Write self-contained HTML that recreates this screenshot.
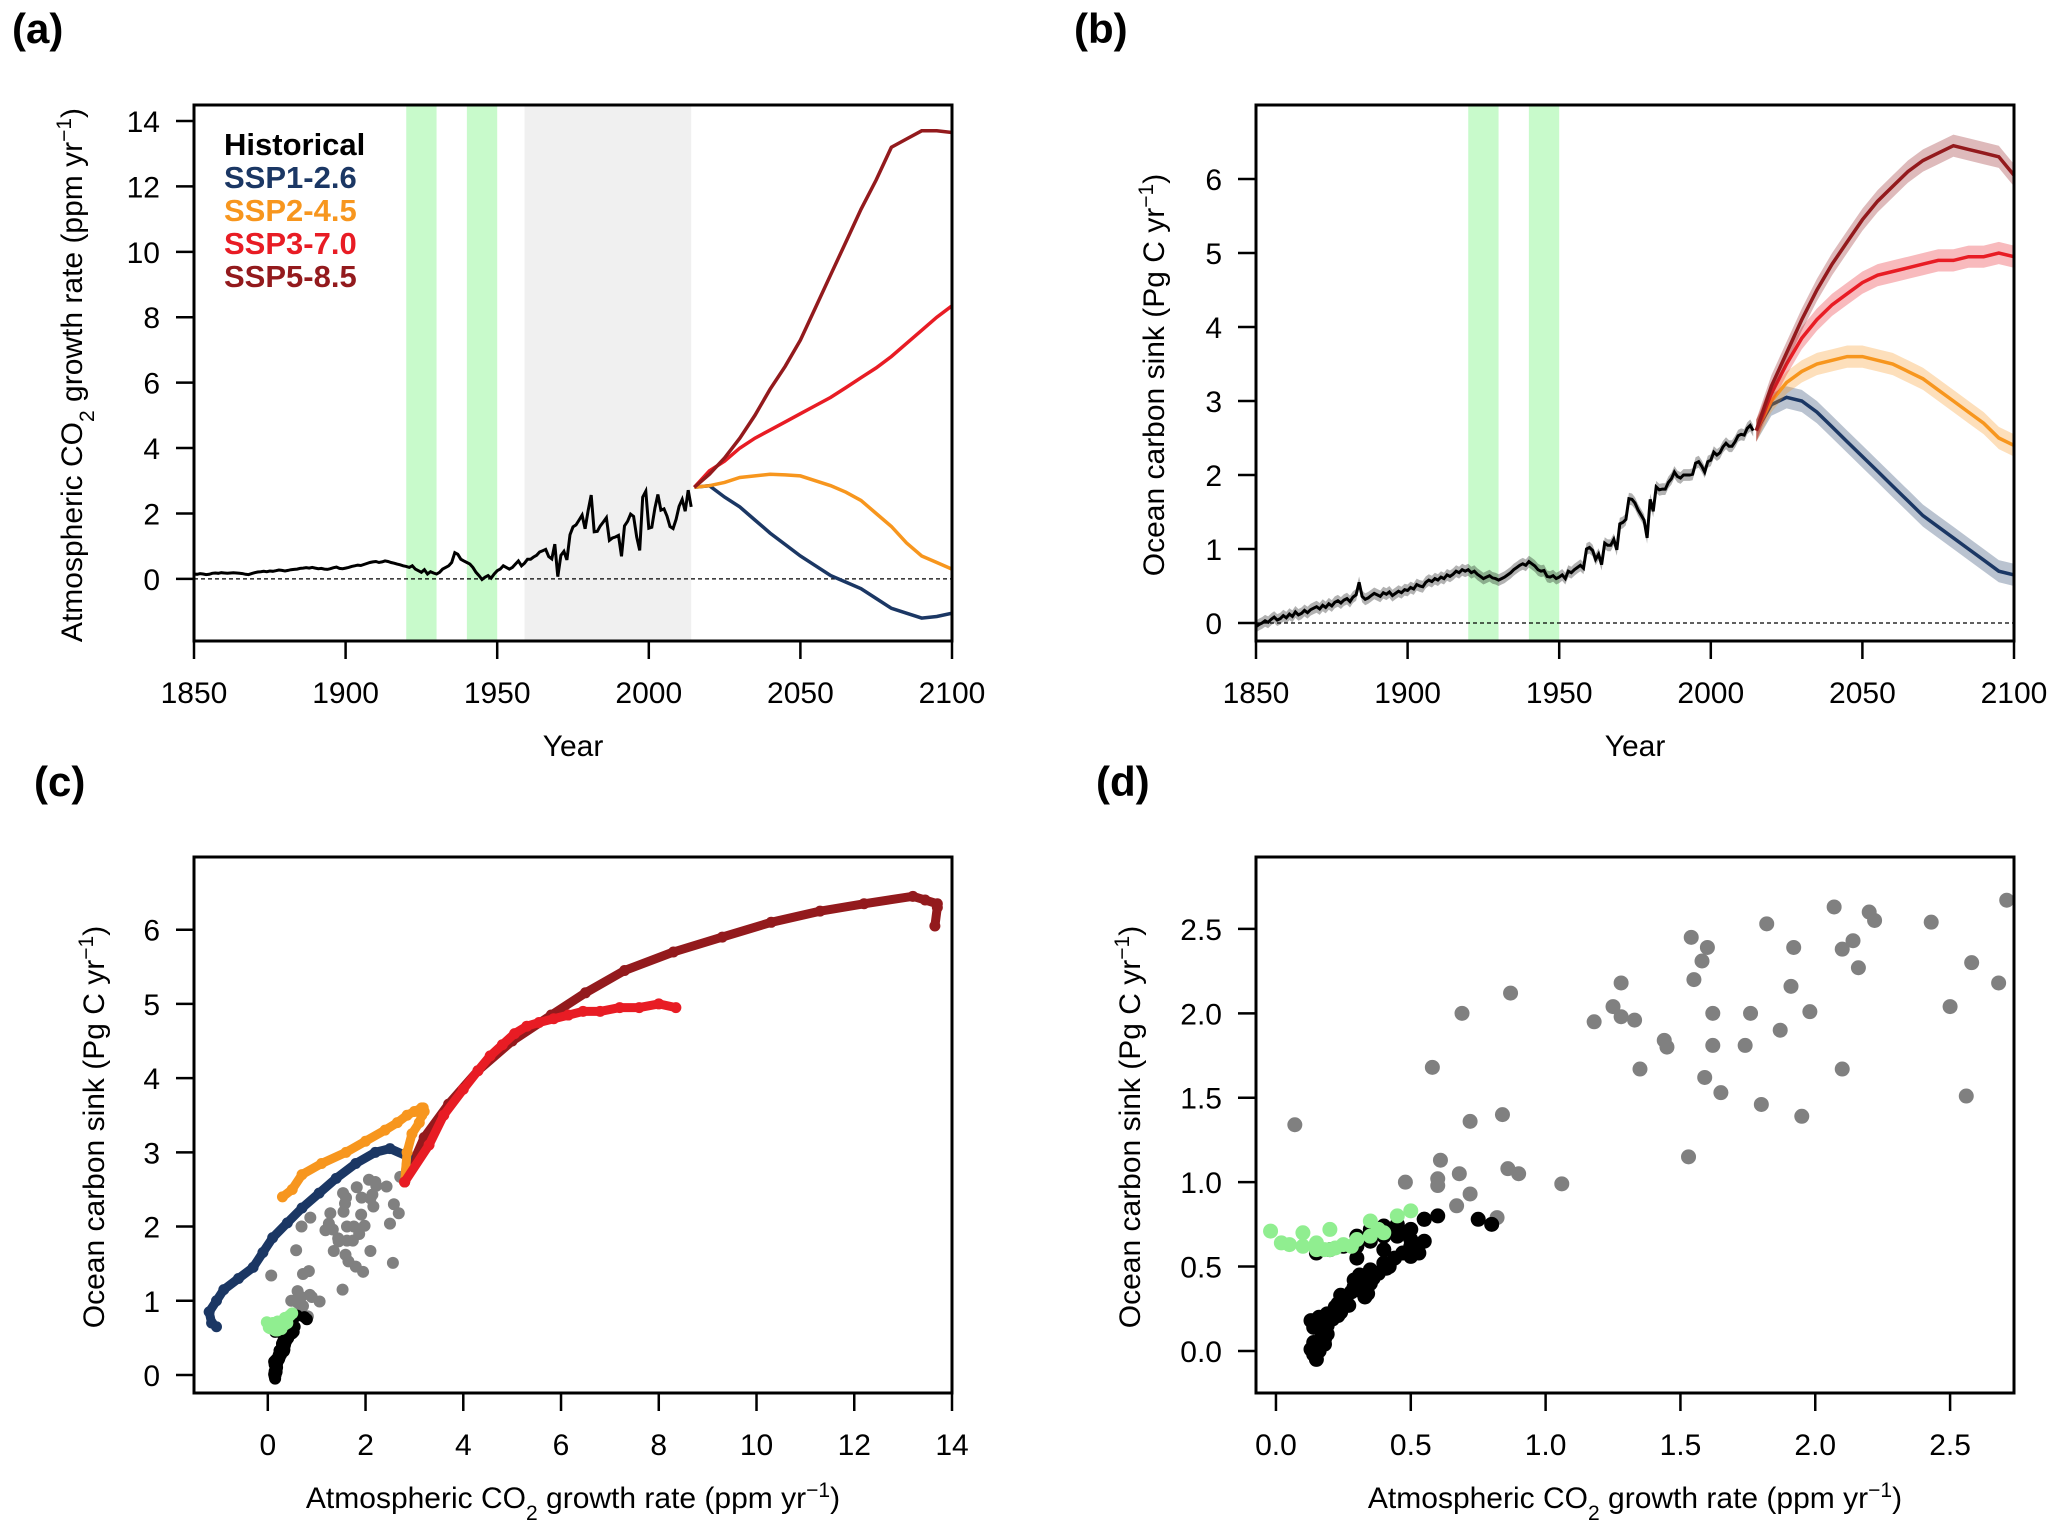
<!DOCTYPE html>
<html><head><meta charset="utf-8"><style>
html,body{margin:0;padding:0;background:#fff;}
svg{display:block;font-family:"Liberation Sans","DejaVu Sans",sans-serif;}
</style></head><body>
<svg id="fig" width="2067" height="1526" viewBox="0 0 2067 1526" xmlns="http://www.w3.org/2000/svg"></svg>
<script>
// ---------- DATA ----------
const histStart = 1850;
const histGrowth = [
0.15,0.14,0.16,0.15,0.13,0.14,0.17,0.18,0.17,0.19,
0.18,0.17,0.18,0.19,0.18,0.17,0.16,0.14,0.13,0.16,
0.19,0.21,0.22,0.23,0.22,0.24,0.23,0.25,0.27,0.26,
0.24,0.26,0.28,0.29,0.3,0.32,0.33,0.34,0.33,0.35,
0.33,0.31,0.32,0.3,0.29,0.31,0.34,0.36,0.32,0.31,
0.33,0.35,0.38,0.4,0.42,0.41,0.44,0.47,0.5,0.52,
0.53,0.5,0.52,0.55,0.53,0.5,0.48,0.45,0.43,0.4,
0.38,0.35,0.4,0.3,0.25,0.2,0.28,0.15,0.22,0.18,
0.15,0.2,0.3,0.35,0.4,0.5,0.8,0.75,0.6,0.55,
0.5,0.45,0.35,0.2,0.1,-0.02,0.05,0.1,0.02,0.15,
0.25,0.3,0.4,0.35,0.3,0.35,0.45,0.55,0.4,
0.48,0.6,0.6,0.67,0.72,0.82,0.86,0.9,0.68,0.61,
1.06,0.07,0.72,0.84,0.58,1.35,1.59,1.65,1.8,1.95,
1.53,2.1,2.56,1.44,1.45,1.62,1.74,1.87,1.18,1.25,
1.28,1.33,0.69,1.62,1.76,1.98,1.91,1.28,0.87,2.5,
2.68,1.55,1.58,2.16,2.58,2.1,2.14,1.92,1.6,1.54,
1.82,2.22,2.43,2.07,2.71,2.2];
const histSink = [
-0.05,-0.02,0.0,0.03,0.01,0.05,0.08,0.04,0.06,0.1,
0.07,0.12,0.09,0.15,0.11,0.13,0.17,0.14,0.18,0.2,
0.22,0.19,0.24,0.21,0.26,0.23,0.28,0.3,0.27,0.31,
0.33,0.29,0.35,0.38,0.55,0.36,0.32,0.34,0.37,0.4,
0.38,0.36,0.41,0.39,0.42,0.37,0.4,0.43,0.41,0.45,
0.44,0.48,0.46,0.52,0.5,0.49,0.55,0.58,0.56,0.6,
0.58,0.62,0.6,0.65,0.63,0.66,0.7,0.68,0.72,0.7,
0.72,0.68,0.7,0.66,0.63,0.6,0.62,0.64,0.61,0.6,
0.58,0.6,0.62,0.65,0.68,0.72,0.75,0.78,0.8,0.78,
0.83,0.8,0.77,0.72,0.7,0.71,0.63,0.62,0.64,0.6,
0.62,0.65,0.6,0.7,0.68,0.72,0.75,0.78,0.74,
1.0,1.02,0.98,0.86,0.93,0.79,1.08,1.05,1.05,1.13,
0.99,1.34,1.36,1.4,1.68,1.67,1.62,1.53,1.46,1.39,
1.15,1.67,1.51,1.84,1.8,1.81,1.81,1.9,1.95,2.04,
1.98,1.96,2.0,2.0,2.0,2.01,2.16,2.18,2.12,2.04,
2.18,2.2,2.31,2.27,2.3,2.38,2.43,2.39,2.39,2.45,
2.53,2.55,2.54,2.63,2.67,2.6];
const scenYears = [2015,2020,2025,2030,2035,2040,2045,2050,2055,2060,2065,2070,2075,2080,2085,2090,2095,2100];
const ssp126Growth = [2.8,2.85,2.5,2.2,1.8,1.4,1.05,0.7,0.4,0.1,-0.1,-0.3,-0.6,-0.9,-1.05,-1.2,-1.15,-1.05];
const ssp245Growth = [2.8,2.85,2.95,3.1,3.15,3.2,3.18,3.15,3.0,2.85,2.65,2.4,2.0,1.6,1.1,0.7,0.5,0.3];
const ssp370Growth = [2.8,3.3,3.6,4.0,4.3,4.55,4.8,5.05,5.3,5.55,5.85,6.15,6.45,6.8,7.2,7.6,8.0,8.35];
const ssp585Growth = [2.8,3.2,3.7,4.3,5.0,5.8,6.5,7.3,8.3,9.3,10.3,11.3,12.2,13.2,13.45,13.7,13.7,13.65];
const ssp126Sink = [2.6,2.95,3.05,3.0,2.85,2.65,2.45,2.25,2.05,1.85,1.65,1.45,1.3,1.15,1.0,0.85,0.7,0.65];
const ssp245Sink = [2.6,3.0,3.25,3.4,3.5,3.55,3.6,3.6,3.55,3.5,3.4,3.3,3.15,3.0,2.85,2.7,2.5,2.4];
const ssp370Sink = [2.6,3.1,3.5,3.85,4.1,4.3,4.45,4.6,4.7,4.75,4.8,4.85,4.9,4.9,4.95,4.95,5.0,4.95];
const ssp585Sink = [2.6,3.2,3.65,4.1,4.5,4.85,5.15,5.45,5.7,5.9,6.1,6.25,6.35,6.45,6.4,6.35,6.3,6.05];
const scenNames = ["SSP1-2.6","SSP2-4.5","SSP3-7.0","SSP5-8.5"];
const scenColors = ["#1b3764","#f7961e","#e81c24","#931a1d"];
const greenSpans = [[1920,1930],[1940,1950]];
const graySpan = [1959,2014];
const xTicksYear = [1850,1900,1950,2000,2050,2100];
const yTicksA = [0,2,4,6,8,10,12,14];
const yTicksB = [0,1,2,3,4,5,6];
const xTicksC = [0,2,4,6,8,10,12,14];
const yTicksC = [0,1,2,3,4,5,6];
const xTicksD = [0,0.5,1,1.5,2,2.5];
const yTicksD = [0,0.5,1,1.5,2,2.5];
const sinkBand = 0.15;

// ---------- HELPERS ----------
const NS="http://www.w3.org/2000/svg";
const svg=document.getElementById('fig');
const FS=30;
function mk(tag,attrs,parent){const e=document.createElementNS(NS,tag);for(const k in attrs)e.setAttribute(k,attrs[k]);(parent||svg).appendChild(e);return e;}
function lin(d0,d1,r0,r1){return v=>r0+(v-d0)*(r1-r0)/(d1-d0);}
const growthSeries=[ssp126Growth,ssp245Growth,ssp370Growth,ssp585Growth];
const sinkSeries=[ssp126Sink,ssp245Sink,ssp370Sink,ssp585Sink];
const histYears=histGrowth.map((_,i)=>histStart+i);

function panel(name,L,R,T,B,xd,yd){
  const g=mk('g',{});
  
  
  const clipId='clip-'+name;
  const cp=mk('clipPath',{id:clipId},g);mk('rect',{x:L,y:T,width:R-L,height:B-T},cp);
  const plot=mk('g',{'clip-path':'url(#'+clipId+')'},g);
  return {g,plot,L,R,T,B,x:lin(xd[0],xd[1],L,R),y:lin(yd[0],yd[1],B,T)};
}
function frame(p,xt,yt,fmtX,fmtY,xlabel,ylabelParts,ylx,yly){
  const f=mk('rect',{x:p.L,y:p.T,width:p.R-p.L,height:p.B-p.T,fill:'none',stroke:'#000','stroke-width':3},p.g);
  
  
  xt.forEach(v=>{const X=p.x(v);
    mk('line',{x1:X,x2:X,y1:p.B,y2:p.B+18,stroke:'#000','stroke-width':2.5},p.g);
    const t=mk('text',{x:X,y:p.B+62,'font-size':FS,'text-anchor':'middle'},p.g);t.textContent=fmtX(v);
    
    });
  yt.forEach(v=>{const Y=p.y(v);
    mk('line',{x1:p.L-18,x2:p.L,y1:Y,y2:Y,stroke:'#000','stroke-width':2.5},p.g);
    const t=mk('text',{x:p.L-34,y:Y+11,'font-size':FS,'text-anchor':'end'},p.g);t.textContent=fmtY(v);
    
    });
  const xl=mk('text',{x:(p.L+p.R)/2,y:xlabel[1],'font-size':FS,'text-anchor':'middle'},p.g);
  xl.innerHTML=xlabel[0];
  
  
  const yl=mk('text',{x:0,y:0,'font-size':FS,'text-anchor':'middle',transform:'translate('+ylx+','+yly+') rotate(-90)'},p.g);
  yl.innerHTML=ylabelParts;
  
  
}
function pathD(xs,ys,p){return xs.map((v,i)=>(i?'L':'M')+p.x(v).toFixed(1)+','+p.y(ys[i]).toFixed(1)).join('');}
function bandD(xs,ys,p,w){const up=xs.map((v,i)=>[p.x(v),p.y(ys[i]+w)]);const dn=xs.map((v,i)=>[p.x(v),p.y(ys[i]-w)]).reverse();
  return 'M'+up.concat(dn).map(q=>q[0].toFixed(1)+','+q[1].toFixed(1)).join('L')+'Z';}
function label(txt,x,y){const t=mk('text',{x,y,'font-size':42,'font-weight':'bold'});t.textContent=txt;
  
  }
const CO2='Atmospheric CO<tspan baseline-shift="sub" font-size="21">2</tspan>';
const SUPm1='<tspan baseline-shift="super" font-size="21">−1</tspan>';

// ---------- PANEL A ----------
const pa=panel('panel-a',194,952,105,641,[1850,2100],[-1.9,14.49]);
function spans(p){
  greenSpans.forEach(s=>{const r=mk('rect',{x:p.x(s[0]),y:p.T,width:p.x(s[1])-p.x(s[0]),height:p.B-p.T,fill:'#c8facb'},p.plot);
    
    });
}
spans(pa);
{const r=mk('rect',{x:pa.x(graySpan[0]),y:pa.T,width:pa.x(graySpan[1])-pa.x(graySpan[0]),height:pa.B-pa.T,fill:'#f0f0f0'},pa.plot);
 
 }
mk('line',{x1:pa.L,x2:pa.R,y1:pa.y(0),y2:pa.y(0),stroke:'#000','stroke-width':1.2,'stroke-dasharray':'4,3'},pa.plot);
growthSeries.forEach((s,i)=>{const e=mk('path',{d:pathD(scenYears,s,pa),fill:'none',stroke:scenColors[i],'stroke-width':3.5},pa.plot);
  
  });
{const e=mk('path',{d:pathD(histYears,histGrowth,pa),fill:'none',stroke:'#000','stroke-width':3},pa.plot);
 
 }
frame(pa,xTicksYear,yTicksA,v=>v,v=>v,['Year',756],CO2+' growth rate (ppm yr'+SUPm1+')',82,375);
const legNames=['Historical'].concat(scenNames), legCols=['#000'].concat(scenColors);
legNames.forEach((n,i)=>{const t=mk('text',{x:224,y:155+i*33,'font-size':31,'font-weight':'bold',fill:legCols[i]});t.textContent=n;
  
  });
label('(a)',12,43);

// ---------- PANEL B ----------
const pb=panel('panel-b',1256,2014,105,641,[1850,2100],[-0.243,7.0]);
spans(pb);
mk('line',{x1:pb.L,x2:pb.R,y1:pb.y(0),y2:pb.y(0),stroke:'#000','stroke-width':1.2,'stroke-dasharray':'4,3'},pb.plot);
sinkSeries.forEach((s,i)=>{mk('path',{d:bandD(scenYears,s,pb,sinkBand),fill:scenColors[i],'fill-opacity':0.3,stroke:'none'},pb.plot);
  const e=mk('path',{d:pathD(scenYears,s,pb),fill:'none',stroke:scenColors[i],'stroke-width':3.5},pb.plot);
  
  });
mk('path',{d:bandD(histYears,histSink,pb,0.08),fill:'#000','fill-opacity':0.3,stroke:'none'},pb.plot);
{const e=mk('path',{d:pathD(histYears,histSink,pb),fill:'none',stroke:'#000','stroke-width':3},pb.plot);
 
 }
frame(pb,xTicksYear,yTicksB,v=>v,v=>v,['Year',756],'Ocean carbon sink (Pg C yr'+SUPm1+')',1164,375);
label('(b)',1074,43);

// ---------- SCATTER HELPERS ----------
function histColor(yr){
  if(yr>=graySpan[0])return '#808080';
  for(const s of greenSpans){if(yr>=s[0]&&yr<s[1])return '#90ee90';}
  return '#000';
}
function histScatter(p,r){
  const order=histYears.map((y,i)=>i);
  const rank=c=>c==='#808080'?0:(c==='#000'?1:2);
  order.sort((a,b)=>rank(histColor(histYears[a]))-rank(histColor(histYears[b])));
  order.forEach(i=>{const c=mk('circle',{cx:p.x(histGrowth[i]),cy:p.y(histSink[i]),r:r,fill:histColor(histYears[i])},p.plot);
    
    });
}

// ---------- PANEL C ----------
const pc=panel('panel-c',194,952,857,1393,[-1.51,14.0],[-0.243,6.98]);
histScatter(pc,6);
[3,0,1,2].forEach(i=>{
  const e=mk('path',{d:pathD(growthSeries[i],sinkSeries[i],pc),fill:'none',stroke:scenColors[i],'stroke-width':9,'stroke-linecap':'round','stroke-linejoin':'round'},pc.plot);
  
  
  growthSeries[i].forEach((g,j)=>{const c=mk('circle',{cx:pc.x(g),cy:pc.y(sinkSeries[i][j]),r:5.5,fill:scenColors[i]},pc.plot);
    
    });
});
frame(pc,xTicksC,yTicksC,v=>v,v=>v,[CO2+' growth rate (ppm yr'+SUPm1+')',1508],'Ocean carbon sink (Pg C yr'+SUPm1+')',104,1127);
label('(c)',34,796);

// ---------- PANEL D ----------
const pd=panel('panel-d',1256,2014,857,1393,[-0.074,2.737],[-0.249,2.926]);
histScatter(pd,7.5);
frame(pd,xTicksD,yTicksD,v=>v.toFixed(1),v=>v.toFixed(1),[CO2+' growth rate (ppm yr'+SUPm1+')',1508],'Ocean carbon sink (Pg C yr'+SUPm1+')',1140,1127);
label('(d)',1096,796);
</script>
</body></html>
